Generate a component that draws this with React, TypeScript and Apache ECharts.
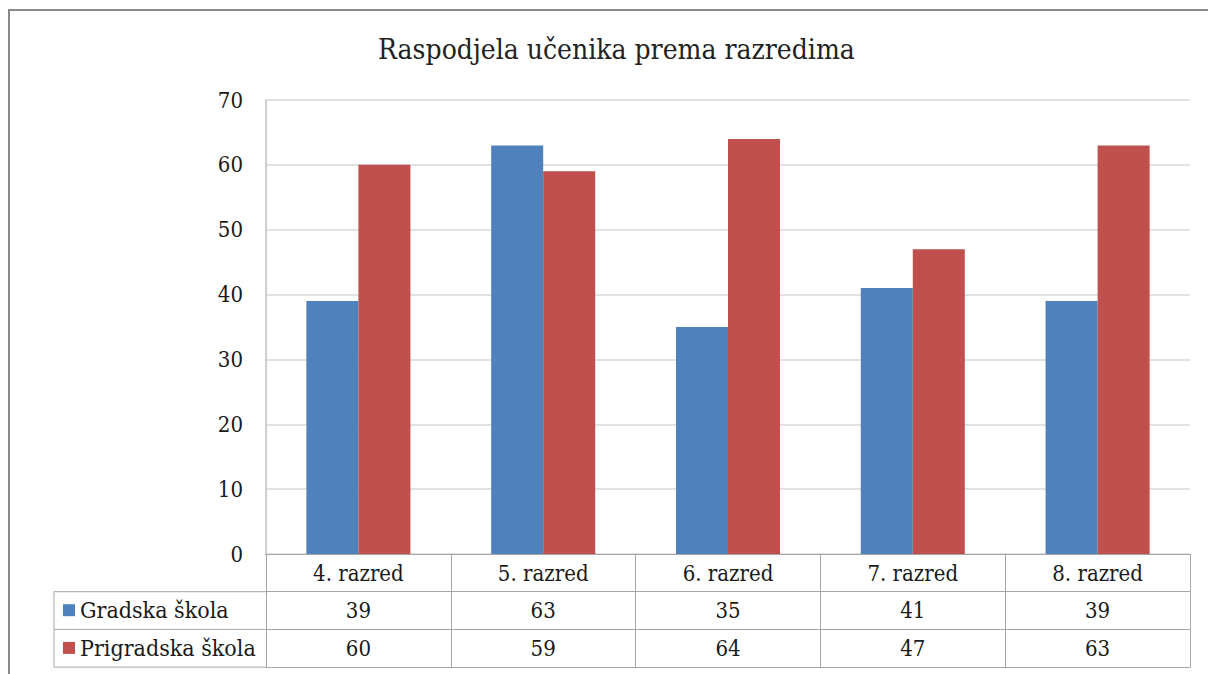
import React, { useEffect, useRef } from "react";
import * as echarts from "echarts";

const titleText = "Raspodjela učenika prema razredima";
const categories = ["4. razred", "5. razred", "6. razred", "7. razred", "8. razred"];
const seriesNames = ["Gradska škola", "Prigradska škola"];
const gradska = [39, 63, 35, 41, 39];
const prigradska = [60, 59, 64, 47, 63];
const yTicks = { min: 0, max: 70, interval: 10 };
const colors = ["#4F81BD", "#C0504D"];

const FONT = "DejaVu Serif Condensed";
const TABLE_LINE = "#a6a6a6";

export default function App() {
  const ref = useRef<HTMLDivElement>(null);
  useEffect(() => {
    if (!ref.current) return;
    const chart = echarts.init(ref.current, undefined, { renderer: "svg" });
    const gridLeft = 266;
    const gridRight = 18;
    const gridTop = 100;
    const gridBottom = 120;
    const rowH = 37.7;
    const axisBottomY = 674 - gridBottom;
    const labelStyle = { fontFamily: FONT, fontSize: 22, color: "#1a1a1a", lineHeight: 22 };
    const tableAxis = (offset: number, values: (number | string)[] | null, showTick: boolean) => ({
      type: "category",
      data: categories,
      position: "bottom",
      offset,
      axisLine: { show: true, lineStyle: { color: TABLE_LINE, width: 1 } },
      axisTick: { show: showTick, length: rowH, inside: false, lineStyle: { color: TABLE_LINE, width: 1 } },
      axisLabel: {
        show: values !== null,
        ...labelStyle,
        margin: 8,
        interval: 0,
        formatter: (v: string, i: number) => (values ? String(values[i]) : v),
      },
      splitLine: { show: false },
    });
    const leftX = 54;
    const hLines = [1, 2, 3].map((k) => ({
      type: "line",
      shape: { x1: leftX, y1: axisBottomY + rowH * k, x2: gridLeft, y2: axisBottomY + rowH * k },
      style: { stroke: TABLE_LINE, lineWidth: 1 },
    }));
    chart.setOption({
      animation: false,
      backgroundColor: "#ffffff",
      title: {
        text: titleText,
        left: 373,
        top: 30,
        textStyle: { fontFamily: FONT, fontWeight: "normal", fontSize: 28, color: "#222" },
      },
      legend: {
        data: seriesNames,
        orient: "vertical",
        left: 58,
        top: axisBottomY + rowH + 2,
        itemWidth: 12,
        itemHeight: 12,
        itemGap: rowH - 23,
        icon: "rect",
        textStyle: { fontFamily: FONT, fontSize: 23, color: "#1a1a1a", lineHeight: 23 },
      },
      grid: { left: gridLeft, right: gridRight, top: gridTop, bottom: gridBottom, containLabel: false },
      xAxis: [
        {
          ...tableAxis(0, null, true),
          axisLabel: { ...labelStyle, margin: 8, interval: 0 },
        },
        tableAxis(rowH, gradska, true),
        tableAxis(rowH * 2, prigradska, true),
        tableAxis(rowH * 3, null, false),
      ],
      yAxis: {
        type: "value",
        min: yTicks.min,
        max: yTicks.max,
        interval: yTicks.interval,
        axisLine: { show: true, lineStyle: { color: "#bfbfbf", width: 1.5 } },
        axisTick: { show: false },
        axisLabel: { fontFamily: FONT, fontSize: 22, color: "#1a1a1a", margin: 23 },
        splitLine: { show: true, lineStyle: { color: "#d9d9d9", width: 1.5 } },
      },
      series: [
        {
          name: seriesNames[0],
          type: "bar",
          data: gradska,
          xAxisIndex: 0,
          barGap: "0%",
          barCategoryGap: "43.7%",
          itemStyle: { color: colors[0] },
        },
        {
          name: seriesNames[1],
          type: "bar",
          data: prigradska,
          xAxisIndex: 0,
          barGap: "0%",
          barCategoryGap: "43.7%",
          itemStyle: { color: colors[1] },
        },
      ],
      graphic: [
        ...hLines,
        {
          type: "line",
          shape: { x1: leftX, y1: axisBottomY + rowH, x2: leftX, y2: axisBottomY + rowH * 3 },
          style: { stroke: TABLE_LINE, lineWidth: 1 },
        },
        {
          type: "line",
          shape: { x1: 8, y1: 10, x2: 1208, y2: 10 },
          style: { stroke: "#8a8a8a", lineWidth: 2 },
        },
        {
          type: "line",
          shape: { x1: 9, y1: 10, x2: 9, y2: 674 },
          style: { stroke: "#8a8a8a", lineWidth: 2 },
        },
      ],
    });
    return () => chart.dispose();
  }, []);
  return (
    <div
      ref={ref}
      style={{ position: "fixed", left: 0, top: 0, width: 1208, height: 674 }}
    />
  );
}
